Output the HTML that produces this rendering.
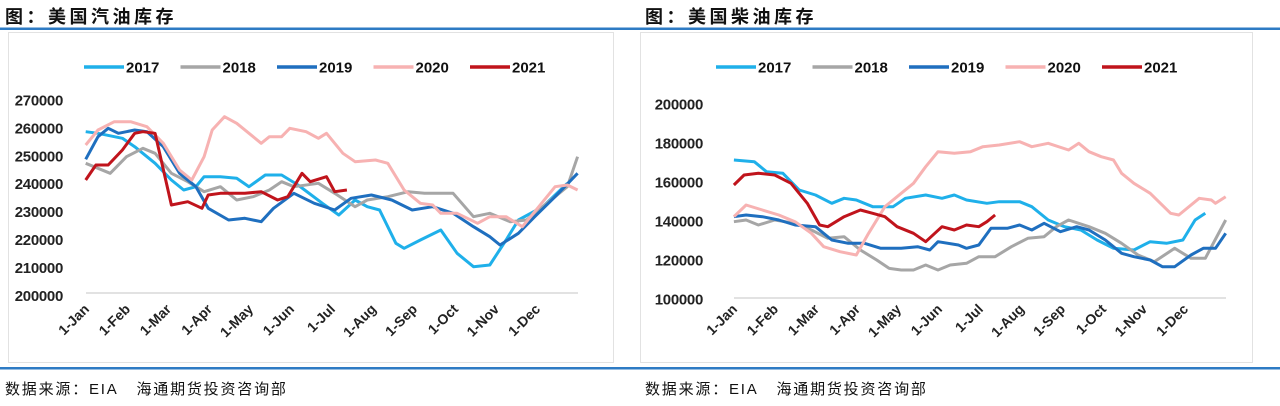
<!DOCTYPE html>
<html><head><meta charset="utf-8"><style>
body{margin:0;background:#fff;width:1280px;height:401px;overflow:hidden;font-family:"Liberation Sans","Noto Sans CJK SC",sans-serif}
</style></head><body>
<svg id="s" width="1280" height="401" xmlns="http://www.w3.org/2000/svg" font-family="'Liberation Sans','Noto Sans CJK SC',sans-serif">
<rect width="1280" height="401" fill="#fff"/>
<text x="5" y="23" font-size="18" font-weight="bold" letter-spacing="3.5" fill="#111">图：美国汽油库存</text>
<text x="645" y="23" font-size="18" font-weight="bold" letter-spacing="3.5" fill="#111">图：美国柴油库存</text>
<rect x="0" y="27.5" width="1280" height="2.5" fill="#2e7bc4"/>
<rect x="0" y="367" width="1280" height="2.5" fill="#2e7bc4"/>
<rect x="8.5" y="32.5" width="605" height="330" fill="#fff" stroke="#e2e2e2"/>
<rect x="640.5" y="32.5" width="612" height="330" fill="#fff" stroke="#e2e2e2"/>
<text x="5" y="394" font-size="15" letter-spacing="1.8" fill="#111">数据来源：EIA&#160;&#160;&#160;海通期货投资咨询部</text>
<text x="645" y="394" font-size="15" letter-spacing="1.8" fill="#111">数据来源：EIA&#160;&#160;&#160;海通期货投资咨询部</text>
<g id="g"></g>
</svg>
<script>
var NS="http://www.w3.org/2000/svg",G=document.getElementById('g');
function el(t,a,txt){var e=document.createElementNS(NS,t);for(var k in a)e.setAttribute(k,a[k]);if(txt)e.textContent=txt;G.appendChild(e);return e;}
var cols=['#1fb0ea','#a6a6a6','#1f6fbf','#f7b2b2','#c0141c'];
var yrs=['2017','2018','2019','2020','2021'];
var mons=['1-Jan','1-Feb','1-Mar','1-Apr','1-May','1-Jun','1-Jul','1-Aug','1-Sep','1-Oct','1-Nov','1-Dec'];
function chart(ox,x0,x1,gy,ylab,yTop,ystep,legX,data){
 el('line',{x1:x0,x2:x1,y1:gy,y2:gy,stroke:'#d9d9d9','stroke-width':1.5});
 for(var i=0;i<ylab.length;i++){el('text',{x:ox+63,y:yTop+i*ystep+5.5,'font-size':15,'font-weight':'bold','text-anchor':'end',fill:'#222','letter-spacing':'-0.3'},ylab[i]);}
 var step=(x1-x0)/12;
 for(var m=0;m<12;m++){var tx=x0+m*step+4,ty=310;el('text',{x:tx,y:ty,'font-size':14,'font-weight':'bold','text-anchor':'end',fill:'#222',transform:'rotate(-45 '+tx+' '+ty+')'},mons[m]);}
 for(var k=0;k<5;k++){var lx=legX+k*96.5;el('line',{x1:lx,x2:lx+40,y1:67,y2:67,stroke:cols[k],'stroke-width':3.5});el('text',{x:lx+42,y:72.5,'font-size':15,'font-weight':'bold',fill:'#111'},yrs[k]);}
 for(var k=0;k<5;k++){var d=data[k],p='';for(var j=0;j<d.length;j+=2){p+=(j?'L':'M')+(ox+d[j]/2.45).toFixed(1)+' '+(d[j+1]/3).toFixed(1);}
  el('path',{d:p,fill:'none',stroke:cols[k],'stroke-width':3,'stroke-linejoin':'round'});}
}
var L=[
[210,395,240,400,300,415,330,440,380,490,420,540,450,570,480,560,500,530,540,530,580,535,610,560,650,525,690,525,730,555,790,610,830,645,870,600,900,620,930,630,970,730,990,745,1030,720,1080,690,1120,760,1160,800,1200,795,1240,720,1270,660,1330,620,1390,550],
[210,490,240,505,270,520,310,470,350,445,380,460,420,520,460,545,500,575,540,560,580,600,620,590,660,570,690,545,720,560,780,550,820,580,870,620,900,600,950,590,1000,575,1040,580,1080,580,1110,580,1160,650,1200,640,1250,665,1290,660,1340,610,1390,560,1415,470],
[210,478,240,410,265,385,290,400,330,390,360,395,400,440,440,520,480,560,510,625,560,660,600,655,640,665,670,625,720,580,770,610,820,630,860,595,910,585,960,600,1010,630,1060,620,1110,640,1160,680,1200,710,1225,735,1270,700,1310,650,1360,590,1415,520],
[210,435,240,390,280,365,320,365,360,380,400,430,440,510,470,540,500,470,520,390,550,350,580,370,610,400,640,430,660,410,690,410,710,385,750,395,780,415,800,400,840,460,870,485,920,480,950,490,990,570,1030,610,1060,615,1080,640,1120,640,1170,670,1200,650,1240,650,1280,680,1320,620,1360,560,1390,555,1415,570],
[210,540,235,495,265,495,300,450,330,400,350,395,380,400,420,615,460,605,495,625,510,585,540,580,600,580,640,575,680,600,705,590,740,520,760,545,800,530,820,575,850,570]];
var R=[
[230,480,280,485,310,515,350,520,390,570,430,585,470,610,500,595,530,600,570,620,620,620,650,595,700,585,740,595,770,585,800,600,850,610,880,605,930,605,960,620,1000,660,1040,680,1080,690,1120,720,1160,745,1210,750,1250,725,1290,730,1330,720,1360,660,1385,640],
[230,665,260,660,290,675,330,660,380,670,420,690,460,715,500,710,540,750,580,780,610,805,640,810,670,810,700,795,730,810,760,795,800,790,830,770,870,770,910,740,950,715,990,710,1020,680,1050,660,1100,680,1140,700,1180,730,1220,765,1260,785,1310,745,1350,775,1385,775,1435,660],
[230,650,260,645,300,650,340,660,380,675,430,680,470,720,510,730,550,730,590,745,640,745,680,740,710,750,730,725,780,735,800,745,830,735,860,685,900,685,930,675,960,690,990,670,1030,695,1070,680,1100,690,1140,720,1180,760,1210,770,1250,780,1280,800,1310,800,1350,765,1380,745,1410,745,1435,700],
[230,650,260,615,300,630,340,645,380,665,420,700,450,740,490,755,530,765,560,700,600,620,640,580,670,550,700,500,730,455,770,460,810,455,840,440,880,435,930,425,960,440,1000,430,1050,450,1075,430,1100,455,1130,470,1160,480,1180,520,1210,550,1250,580,1300,640,1320,645,1370,595,1400,600,1410,610,1435,590],
[230,555,255,525,290,520,330,525,370,550,410,610,440,675,460,680,500,650,540,630,570,640,600,650,630,680,670,700,700,725,740,680,770,690,800,675,830,680,850,665,870,645]];
chart(0,86,578,293,['270000','260000','250000','240000','230000','220000','210000','200000'],100,27.9,84,L);
chart(640,734,1226,298,['200000','180000','160000','140000','120000','100000'],104,39,716,R);
</script>
</body></html>
